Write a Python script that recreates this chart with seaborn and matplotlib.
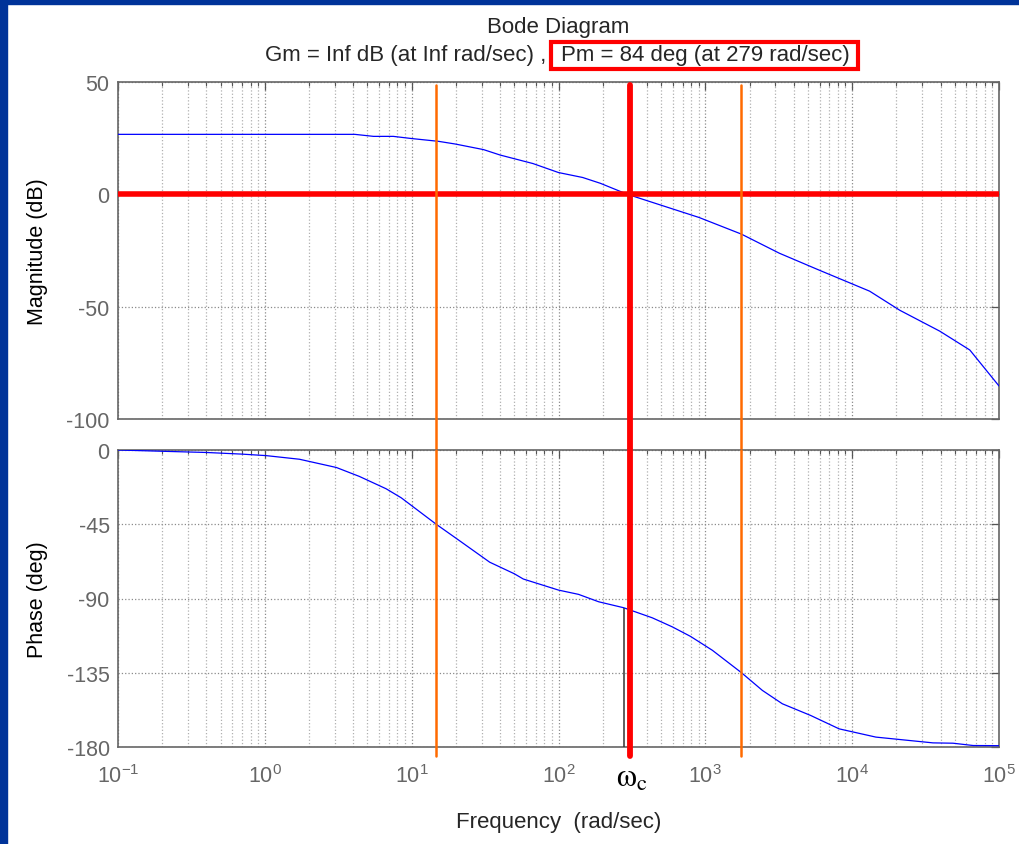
import numpy as np
import pandas as pd
import matplotlib.pyplot as plt
from matplotlib.patches import Rectangle
from matplotlib.ticker import LogLocator, FuncFormatter, NullFormatter, FixedLocator
import seaborn as sns

# values
mag_freq = [0.1, 4.1, 5.5, 7.5, 10.1, 15.2, 19.8, 30.9, 40, 67, 100, 146, 193, 295,
            906, 1760, 3190, 5990, 13150, 21100, 39500, 63300, 100000]
mag_db = [26.7, 26.7, 25.8, 25.8, 24.8, 23.6, 22.4, 19.9, 17.5, 13.7, 9.7, 7.5, 4.9, 0.0,
          -10.3, -17.7, -26.2, -33.8, -43.1, -51.6, -60.9, -69.3, -85.3]

ph_freq = [0.1, 0.206, 0.40, 0.70, 1.02, 1.72, 3.07, 4.4, 6.7, 8.5, 14.7, 21.2, 34, 50,
           57.6, 100, 137, 188, 278, 435, 596, 794, 1117, 1764, 2446, 3345, 5220, 8150,
           14500, 35500, 48600, 66700, 100000]
ph_deg = [0, -0.8, -1.5, -2.5, -3.4, -5.6, -10.6, -16, -23.5, -29, -45, -55, -68, -75,
          -78.2, -84.9, -87.5, -92, -95.6, -101.7, -107.2, -113, -121.4, -135, -145.7,
          -153.8, -160.9, -169, -174, -177.5, -177.7, -179.1, -179.2]

mag_ticks = [-100, -50, 0, 50]
ph_ticks = [-180, -135, -90, -45, 0]

wc = 279          # crossover frequency from margin()
pm = 84           # phase margin, deg
wc_marker = 305   # hand drawn red marker
orange_w = [14.7, 1760]

sns.set_style("white")
plt.rcParams['font.family'] = ['Liberation Sans', 'DejaVu Sans']
plt.rcParams['mathtext.fontset'] = 'custom'
plt.rcParams['mathtext.rm'] = 'Liberation Sans'
plt.rcParams['axes.unicode_minus'] = False

W, H = 1019, 845
fig = plt.figure(figsize=(W / 100, H / 100), dpi=100)

left, right = 118 / W, 999 / W
mag_box = [left, 1 - 420 / H, right - left, 337 / H]
ph_box = [left, 1 - 748 / H, right - left, 297 / H]
ax_mag = fig.add_axes(mag_box)
ax_ph = fig.add_axes(ph_box, sharex=ax_mag)

mag_df = pd.DataFrame({'freq': mag_freq, 'db': mag_db})
ph_df = pd.DataFrame({'freq': ph_freq, 'deg': ph_deg})
sns.lineplot(data=mag_df, x='freq', y='db', ax=ax_mag, color='#0000ff', lw=0.9,
             sort=False, estimator=None, zorder=4)
sns.lineplot(data=ph_df, x='freq', y='deg', ax=ax_ph, color='#0000ff', lw=0.9,
             sort=False, estimator=None, zorder=4)

gray = '#555555'
for ax, ticks in [(ax_mag, mag_ticks), (ax_ph, ph_ticks)]:
    ax.set_xscale('log')
    ax.set_xlim(0.1, 1e5)
    ax.set_ylim(ticks[0], ticks[-1])
    ax.yaxis.set_major_locator(FixedLocator(ticks))
    ax.xaxis.set_major_locator(LogLocator(base=10, numticks=20))
    ax.xaxis.set_minor_locator(LogLocator(base=10, subs=np.arange(2, 10), numticks=20))
    ax.grid(which='major', color='#8a8a8a', ls=':', lw=0.9)
    ax.grid(which='minor', axis='x', color='#b0b0b0', ls=':', lw=0.9)
    ax.tick_params(which='both', direction='in', top=True, right=True, colors=gray,
                   labelcolor='#666666', labelsize=15.5)
    ax.tick_params(which='major', length=6, width=0.9)
    ax.tick_params(which='minor', length=3, width=0.8)
    ax.tick_params(axis='y', pad=6)
    ax.tick_params(axis='x', pad=12)
    for s in ax.spines.values():
        s.set_color('#666666')
        s.set_linewidth(1.2)
    ax.set_xlabel('')

ax_mag.tick_params(axis='x', which='both', labelbottom=False)
ax_ph.xaxis.set_major_formatter(FuncFormatter(lambda v, p: r'$\mathregular{10^{%d}}$' % round(np.log10(v))))
ax_ph.xaxis.set_minor_formatter(NullFormatter())

ax_mag.set_ylabel('Magnitude (dB)', fontsize=15.5, color='black')
ax_ph.set_ylabel('Phase (deg)', fontsize=15.5, color='black')
ax_mag.yaxis.set_label_coords(-0.08, 0.5)
ax_ph.yaxis.set_label_coords(-0.08, 0.5)

# red 0 dB line
ax_mag.axhline(0, color='#ff0000', lw=4, zorder=5)

# vertical marker lines running through both panels
gap = (mag_box[1] - (ph_box[1] + ph_box[3])) / mag_box[3]
top_cut = 3 / 337
below = 9 / 297


def span_line(w, color, lw):
    ax_mag.axvline(w, ymin=-gap, ymax=1 - top_cut, color=color, lw=lw, clip_on=False, zorder=5)
    ax_ph.axvline(w, ymin=-below, ymax=1, color=color, lw=lw, clip_on=False, zorder=5)


for w in orange_w:
    span_line(w, '#ff6a00', 1.8)
span_line(wc_marker, '#ff0000', 4.2)

# black margin marker in the phase panel
ax_ph.vlines(wc, ph_ticks[0], -180 + pm, color='#333333', lw=1.1, zorder=4)

ax_ph.text(wc_marker * 1.03, -0.13, r'$\mathrm{\omega}_{\mathrm{c}}$', transform=ax_ph.get_xaxis_transform(),
           ha='center', va='baseline', fontsize=23, math_fontfamily='stix', color='black')

# titles
cx = left + (right - left) / 2
fig.text(cx, 1 - 28 / H, 'Bode Diagram', ha='center', va='center', fontsize=16)
fig.text(546 / W, 1 - 56 / H, 'Gm = Inf dB (at Inf rad/sec) ,', ha='right', va='center', fontsize=16)
fig.text(705 / W, 1 - 56 / H, 'Pm = 84 deg (at 279 rad/sec)', ha='center', va='center', fontsize=16)
fig.patches.append(Rectangle((551 / W, 1 - 70 / H), 307 / W, 27 / H, transform=fig.transFigure,
                             fill=False, ec='#ff0000', lw=3, zorder=10))
fig.text(cx, 1 - 823 / H, 'Frequency  (rad/sec)', ha='center', va='center', fontsize=16)

# slide frame
blue = '#003399'
fig.patches.append(Rectangle((0, 0), 7 / W, 1, transform=fig.transFigure, color=blue, zorder=10))
fig.patches.append(Rectangle((0, 1 - 5 / H), 1, 5 / H, transform=fig.transFigure, color=blue, zorder=10))

fig.savefig('out.png', dpi=100)
